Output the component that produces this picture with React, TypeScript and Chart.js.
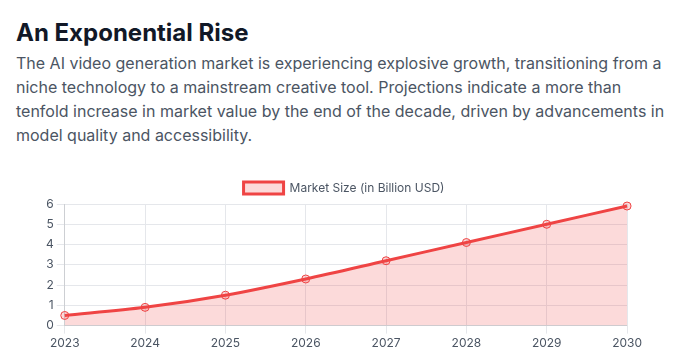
import React, { useEffect, useRef } from "react";
import { Chart, registerables } from "chart.js";

Chart.register(...registerables);

const years = ["2023", "2024", "2025", "2026", "2027", "2028", "2029", "2030"];
const marketSize = [0.5, 0.9, 1.5, 2.3, 3.2, 4.1, 5.0, 5.9];
const seriesLabel = "Market Size (in Billion USD)";

export default function App() {
  const ref = useRef<HTMLCanvasElement | null>(null);
  useEffect(() => {
    if (!ref.current) return;
    Chart.defaults.font.family = "Inter, sans-serif";
    Chart.defaults.color = "#4b5563";
    const chart = new Chart(ref.current, {
      type: "line",
      data: {
        labels: years,
        datasets: [
          {
            label: seriesLabel,
            data: marketSize,
            borderColor: "#ef4444",
            backgroundColor: "rgba(239,68,68,0.2)",
            borderWidth: 3,
            fill: true,
            tension: 0.3,
            pointRadius: 4,
            pointBorderWidth: 1,
            pointBorderColor: "#ef4444",
            pointBackgroundColor: "rgba(239,68,68,0.2)",
            clip: false,
          },
        ],
      },
      options: {
        animation: false,
        responsive: true,
        maintainAspectRatio: false,
        plugins: {
          legend: { labels: { font: { size: 12 } } },
        },
        scales: {
          y: { beginAtZero: true, max: 6, ticks: { stepSize: 1 }, grid: { color: "#e5e7eb" } },
          x: { grid: { color: "#e5e7eb" } },
        },
      },
    });
    return () => chart.destroy();
  }, []);
  return (
    <div style={{ padding: "0 8px", fontFamily: "Inter, sans-serif" }}>
      <h2 style={{ fontSize: 24, lineHeight: "32px", fontWeight: 700, color: "#111827", margin: "9px 0 2px" }}>
        An Exponential Rise
      </h2>
      <p style={{ fontSize: 16, lineHeight: "24px", color: "#4b5563", margin: 0 }}>
        The AI video generation market is experiencing explosive growth, transitioning from a niche technology to a
        mainstream creative tool. Projections indicate a more than tenfold increase in market value by the end of the
        decade, driven by advancements in model quality and accessibility.
      </p>
      <div style={{ position: "relative", width: 602, height: 182, margin: "25px 0 0 27px" }}>
        <canvas ref={ref} />
      </div>
    </div>
  );
}
